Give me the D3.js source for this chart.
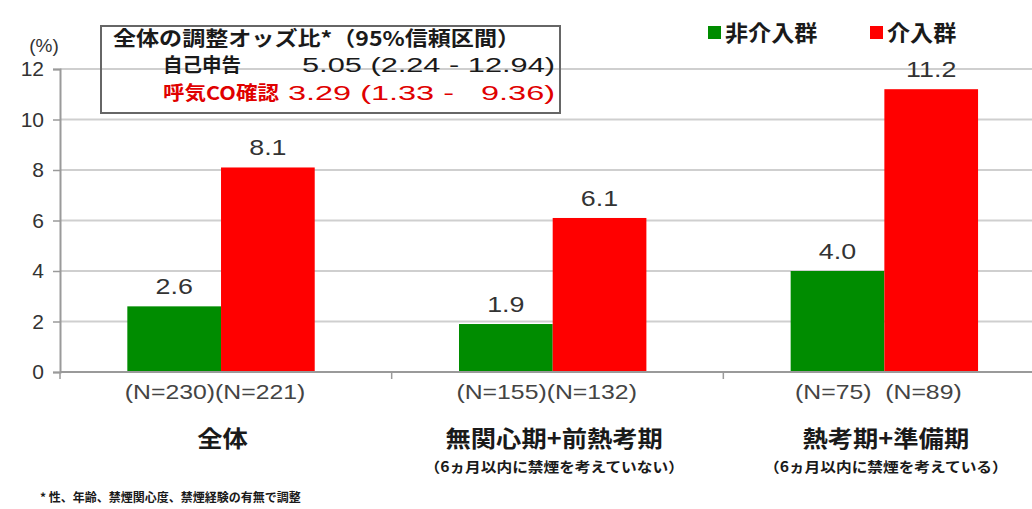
<!DOCTYPE html>
<html>
<head>
<meta charset="utf-8">
<script src="https://cdn.jsdelivr.net/npm/d3@7"></script>
<style>
  body { margin: 0; background: #fff; }
  svg { display: block; }
  text { font-family: "Liberation Sans", Arial, sans-serif; }
  .jp { font-family: "Noto Sans CJK JP", sans-serif; font-weight: 700; }
</style>
</head>
<body>
<svg id="drawing_region"></svg>
<script>
// data
const categories = ["全体", "無関心期+前熱考期", "熱考期+準備期"];
const subLabels = ["", "（6ヵ月以内に禁煙を考えていない）", "（6ヵ月以内に禁煙を考えている）"];
const seriesNames = ["非介入群", "介入群"];
const nonIntervention = [2.6, 1.9, 4.0];
const intervention = [8.1, 6.1, 11.2];
const nNonIntervention = [230, 155, 75];
const nIntervention = [221, 132, 89];
const yTicks = [0, 2, 4, 6, 8, 10, 12];
const boxTitle = "全体の調整オッズ比*（95%信頼区間）";
const boxRows = [
    { label: "自己申告", value: "5.05 (2.24 - 12.94)" },
    { label: "呼気CO確認", value: "3.29 (1.33 -   9.36)" }
];
const footnote = "* 性、年齢、禁煙関心度、禁煙経験の有無で調整";

const colors = ["#008c00", "#ff0000"];
const W = 1032, H = 509;
const margin = { top: 69, right: -23, bottom: 137, left: 60 };

const svg = d3.select("#drawing_region").attr("width", W).attr("height", H);
const innerW = W - margin.left - margin.right;
const innerH = H - margin.top - margin.bottom;
const chart = svg.append("g").attr("transform", `translate(${margin.left},${margin.top})`);

// stretch text horizontally like the source picture
function stretch(sel, sx) {
    sel.each(function () {
        const len = this.getComputedTextLength();
        d3.select(this).attr("textLength", len * sx).attr("lengthAdjust", "spacingAndGlyphs");
    });
}

const x0 = d3.scaleBand().domain(d3.range(categories.length)).range([0, innerW]).padding(0);
const x1 = d3.scaleBand().domain(d3.range(seriesNames.length))
    .range([x0.bandwidth() * 0.203, x0.bandwidth() * 0.768]).padding(0);
const y = d3.scaleLinear().domain([0, 12]).range([innerH, 0]);

// gridlines
chart.append("g").selectAll("line")
    .data(yTicks.filter(d => d > 0))
    .join("line")
    .attr("x1", 0).attr("x2", W - margin.left)
    .attr("y1", d => y(d)).attr("y2", d => y(d))
    .attr("stroke", "#cfcfcf").attr("stroke-width", 2);

// y axis
const yAxis = d3.axisLeft(y).tickValues(yTicks).tickSize(7).tickPadding(9);
const yg = chart.append("g").call(yAxis);
yg.select(".domain").attr("stroke", "#9a9a9a").attr("stroke-width", 2);
yg.selectAll(".tick line").attr("stroke", "#9a9a9a").attr("stroke-width", 1.5);
yg.selectAll(".tick text").attr("font-size", 21).attr("fill", "#333")
    .attr("font-family", "Liberation Sans, Arial, sans-serif");

svg.append("text").attr("x", 44).attr("y", 52).attr("text-anchor", "middle")
    .attr("font-size", 19).attr("fill", "#333").text("(%)");

// bars
const groups = chart.append("g").selectAll("g")
    .data(categories.map((c, i) => ({ i, vals: [nonIntervention[i], intervention[i]], ns: [nNonIntervention[i], nIntervention[i]] })))
    .join("g")
    .attr("transform", d => `translate(${x0(d.i)},0)`);

groups.selectAll("rect")
    .data(d => d.vals.map((v, s) => ({ v, s })))
    .join("rect")
    .attr("x", d => x1(d.s))
    .attr("y", d => y(d.v))
    .attr("width", x1.bandwidth())
    .attr("height", d => y(0) - y(d.v))
    .attr("fill", d => colors[d.s]);

groups.selectAll("text.val")
    .data(d => d.vals.map((v, s) => ({ v, s })))
    .join("text")
    .attr("class", "val")
    .attr("x", d => x1(d.s) + x1.bandwidth() / 2)
    .attr("y", d => y(d.v) - 12)
    .attr("text-anchor", "middle")
    .attr("font-size", 22).attr("fill", "#333")
    .text(d => d.v.toFixed(1))
    .call(stretch, 1.22);

// N labels written as one line per category, like the source
groups.append("text")
    .attr("class", "n")
    .attr("x", x1.range()[0] + (x1.range()[1] - x1.range()[0]) / 2 - 6)
    .attr("y", innerH + 27)
    .attr("text-anchor", "middle")
    .attr("font-size", 21).attr("fill", "#444")
    .attr("xml:space", "preserve")
    .style("white-space", "pre")
    .text(d => {
        const gap = d.ns[0] < 100 ? "  " : "";
        return `(N=${d.ns[0]})${gap}(N=${d.ns[1]})`;
    })
    .call(stretch, 1.18);

// x axis line and separators
chart.append("line").attr("x1", 0).attr("x2", W - margin.left)
    .attr("y1", innerH).attr("y2", innerH)
    .attr("stroke", "#9a9a9a").attr("stroke-width", 2);
chart.append("g").selectAll("line")
    .data(d3.range(categories.length))
    .join("line")
    .attr("x1", d => x0(d)).attr("x2", d => x0(d))
    .attr("y1", innerH).attr("y2", innerH + 7)
    .attr("stroke", "#9a9a9a").attr("stroke-width", 1.5);

// category labels
groups.append("text")
    .attr("class", "jp")
    .attr("x", x0.bandwidth() * 0.49)
    .attr("y", innerH + 75)
    .attr("text-anchor", "middle")
    .attr("font-size", 23).attr("fill", "#1a1a1a")
    .text(d => categories[d.i])
    .call(stretch, 1.1);

groups.filter(d => subLabels[d.i] !== "").append("text")
    .attr("class", "jp")
    .attr("x", x0.bandwidth() * 0.49)
    .attr("y", innerH + 100)
    .attr("text-anchor", "middle")
    .attr("font-size", 14).attr("fill", "#1a1a1a")
    .text(d => subLabels[d.i])
    .call(stretch, 1.12);

svg.append("text").attr("class", "jp")
    .attr("x", 40).attr("y", 502)
    .attr("font-size", 12).attr("fill", "#1a1a1a")
    .text(footnote)
    .call(stretch, 1.0);

// legend
const legend = svg.append("g").attr("transform", "translate(708,0)");
const legendX = [0, 162];
seriesNames.forEach((name, i) => {
    legend.append("rect").attr("x", legendX[i]).attr("y", 26)
        .attr("width", 13).attr("height", 13).attr("fill", colors[i]);
    legend.append("text").attr("class", "jp")
        .attr("x", legendX[i] + 17).attr("y", 41)
        .attr("font-size", 22).attr("fill", "#1a1a1a")
        .text(name)
        .call(stretch, 1.05);
});

// odds ratio box
const box = svg.append("g");
box.append("rect").attr("x", 101).attr("y", 26).attr("width", 459).attr("height", 87)
    .attr("fill", "none").attr("stroke", "#666").attr("stroke-width", 2);
box.append("text").attr("class", "jp")
    .attr("x", 113).attr("y", 46)
    .attr("font-size", 20).attr("fill", "#1a1a1a")
    .text(boxTitle)
    .attr("textLength", 407).attr("lengthAdjust", "spacingAndGlyphs");
const rowColors = ["#1a1a1a", "#e00000"];
const rowValueStart = [302, 288];
const rowLabelWidth = [78, 116];
boxRows.forEach((r, i) => {
    box.append("text").attr("class", "jp")
        .attr("x", 163).attr("y", 72 + i * 28)
        .attr("font-size", 19).attr("fill", rowColors[i])
        .text(r.label)
        .attr("textLength", rowLabelWidth[i]).attr("lengthAdjust", "spacingAndGlyphs");
    box.append("text")
        .attr("x", rowValueStart[i]).attr("y", 72 + i * 28)
        .attr("font-size", 20).attr("fill", rowColors[i])
        .attr("xml:space", "preserve")
        .style("white-space", "pre")
        .text(r.value)
        .attr("textLength", 555 - rowValueStart[i]).attr("lengthAdjust", "spacingAndGlyphs");
});
</script>
</body>
</html>
